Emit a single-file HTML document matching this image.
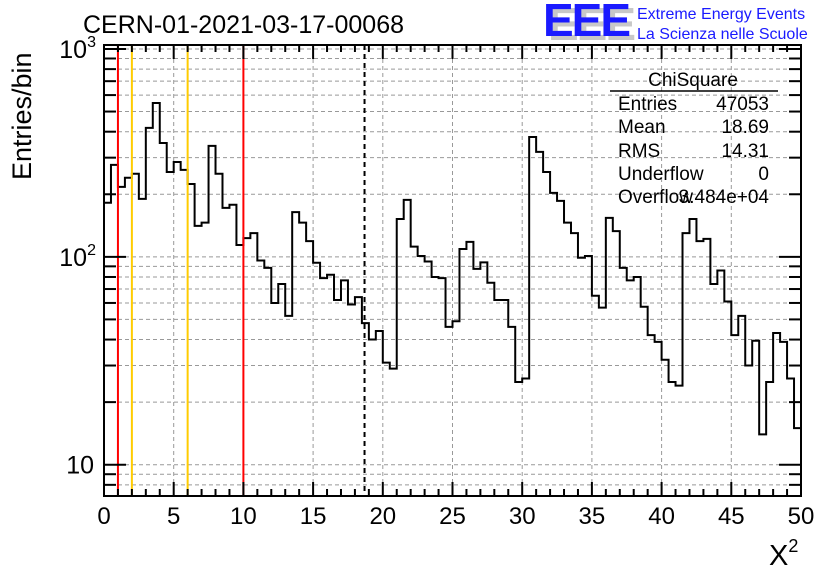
<!DOCTYPE html>
<html><head><meta charset="utf-8"><style>
html,body{margin:0;padding:0;background:#fff;}
svg{display:block;}
text{font-family:"Liberation Sans",sans-serif;}
</style></head><body>
<svg id="chart" width="836" height="572" viewBox="0 0 836 572" xmlns="http://www.w3.org/2000/svg">
<rect width="836" height="572" fill="#fff"/>
<g id="grid"></g>
<g id="marks"></g>
<g id="axes"></g>
<text x="83" y="33" font-size="25">CERN-01-2021-03-17-00068</text>
<g>
<text x="548" y="40" font-size="46" font-weight="bold" fill="#c8c8c8" letter-spacing="-2">EEE</text>
<text x="543" y="36" font-size="46" font-weight="bold" fill="#1a1aff" letter-spacing="-2">EEE</text>
<text x="637" y="19" font-size="16" fill="#1a1aff">Extreme Energy Events</text>
<text x="637" y="39" font-size="16" fill="#1a1aff">La Scienza nelle Scuole</text>
</g>
<g font-size="19">
<text x="693" y="86" text-anchor="middle">ChiSquare</text>
<line x1="610" y1="91" x2="778" y2="91" stroke="#000" stroke-width="1.5"/>
<text x="618" y="110">Entries</text><text x="769" y="110" text-anchor="end">47053</text>
<text x="618" y="133">Mean</text><text x="769" y="133" text-anchor="end">18.69</text>
<text x="618" y="157">RMS</text><text x="769" y="157" text-anchor="end">14.31</text>
<text x="618" y="180">Underflow</text><text x="769" y="180" text-anchor="end">0</text>
<text x="618" y="203">Overflow</text><text x="769" y="203" text-anchor="end">3.484e+04</text>
</g>
<text transform="translate(31,180) rotate(-90)" font-size="27">Entries/bin</text>
<text x="769" y="565" font-size="29" font-family="Liberation Serif,serif">X<tspan font-size="18" dy="-13">2</tspan></text>
</svg>
<script>
const counts=[182,277,217,240,251,190,417,550,353,256,286,262,224,141,146,342,251,172,178,114,
123,130,96,88.5,60,74,52,164,146,119,93.6,79,82,62,77,59,64,48,40,44,
31,29,152,188,112,101,95,80,79,46,49,109,118,87.5,94,75,62,62,46,25,
26,377,320,256,203,186,146,130,99,101,65,57,154,133,88.5,77,80,57.5,42,39,
32,25,24,130,152,119,122,74,86,61,42,52,30,39.5,14,25,43,39,26,15];
const xTicks=[0,5,10,15,20,25,30,35,40,45,50];
const yDecades=[10,100,1000];
const binWidth=0.5;
const redLines=[1,10];
const orangeLines=[2,6];
const meanLine=18.69;

const L=104,R=801,T=45,B=496;
const xMin=0,xMax=50,yMin=7.07,yMax=1045;
const X=v=>L+(v-xMin)/(xMax-xMin)*(R-L);
const Y=v=>B-(Math.log10(v)-Math.log10(yMin))/(Math.log10(yMax)-Math.log10(yMin))*(B-T);
const NS="http://www.w3.org/2000/svg";
function mk(tag,attrs,parent){const e=document.createElementNS(NS,tag);for(const k in attrs)e.setAttribute(k,attrs[k]);parent.appendChild(e);return e;}
const grid=document.getElementById('grid'),marks=document.getElementById('marks'),axes=document.getElementById('axes');

xTicks.forEach(t=>{if(t>xMin&&t<xMax){const g=mk('line',{x1:X(t),x2:X(t),y1:T,y2:B,stroke:'#999','stroke-dasharray':'4,3','stroke-width':1},grid);

}});
for(let d=1;d<=1000;d*=10){for(let m=1;m<10;m++){const v=d*m;if(v>yMin&&v<yMax){const g=mk('line',{x1:L,x2:R,y1:Y(v),y2:Y(v),stroke:'#999','stroke-dasharray':'4,3','stroke-width':1},grid);

}}}

let d='';
counts.forEach((c,i)=>{const x0=X(i*binWidth),x1=X((i+1)*binWidth),y=Y(c);d+=(i===0?'M'+x0+','+y:'L'+x0+','+y)+'L'+x1+','+y;});
const h=mk('path',{d:d,fill:'none',stroke:'#000','stroke-width':2},marks);



redLines.forEach(v=>{const l=mk('line',{x1:X(v),x2:X(v),y1:T,y2:B,stroke:'#f00','stroke-width':2},marks);

});
orangeLines.forEach(v=>{const l=mk('line',{x1:X(v),x2:X(v),y1:T,y2:B,stroke:'#fc0','stroke-width':2},marks);

});
const ml=mk('line',{x1:X(meanLine),x2:X(meanLine),y1:T,y2:B,stroke:'#000','stroke-width':2,'stroke-dasharray':'5,4'},marks);



const fr=mk('rect',{x:L,y:T,width:R-L,height:B-T,fill:'none',stroke:'#000','stroke-width':2},axes);



for(let v=xMin;v<=xMax+1e-9;v+=1){const major=v%5===0;const len=major?14:7;
mk('line',{x1:X(v),x2:X(v),y1:B,y2:B-len,stroke:'#000','stroke-width':2},axes);
mk('line',{x1:X(v),x2:X(v),y1:T,y2:T+len,stroke:'#000','stroke-width':2},axes);}
xTicks.forEach(t=>{const tx=mk('text',{x:X(t),y:B+28,'font-size':24,'text-anchor':'middle'},axes);tx.textContent=t;

});

for(let dd=1;dd<=1000;dd*=10){for(let m=1;m<10;m++){const v=dd*m;if(v>=yMin&&v<=yMax){const len=m===1?22:12;
mk('line',{x1:L,x2:L+len,y1:Y(v),y2:Y(v),stroke:'#000','stroke-width':2},axes);
mk('line',{x1:R,x2:R-len,y1:Y(v),y2:Y(v),stroke:'#000','stroke-width':2},axes);}}}
yDecades.forEach(v=>{const e=Math.round(Math.log10(v));const tx=mk('text',{x:L-8,y:Y(v)+9,'font-size':25,'text-anchor':'end'},axes);
tx.textContent='10';


if(e>1){const s=mk('tspan',{'font-size':16,dy:-11},tx);s.textContent=e;}
else{tx.setAttribute('x',L-10);}});
</script>
</body></html>
